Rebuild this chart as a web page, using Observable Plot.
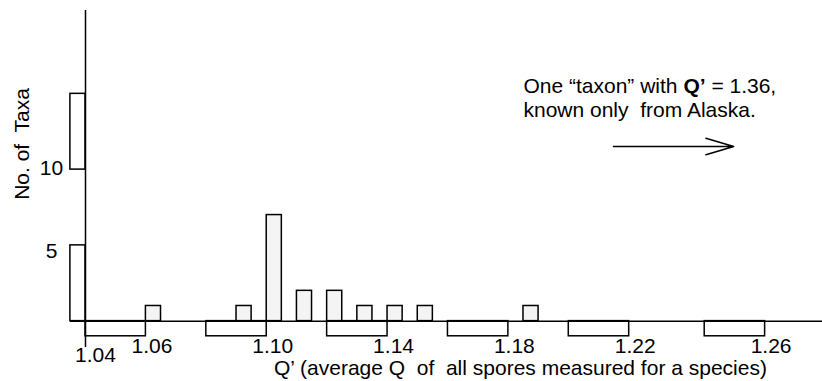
<!DOCTYPE html>
<html>
<head>
<meta charset="utf-8">
<script src="https://cdn.jsdelivr.net/npm/d3@7"></script>
<script src="https://cdn.jsdelivr.net/npm/@observablehq/plot@0.6"></script>
<style>
  html, body { margin: 0; padding: 0; background: #fff; }
  svg text { white-space: pre; }
</style>
</head>
<body>
<div id="chart"></div>
<script>
// Histogram bins (left edge of each Q' bin) and number of taxa
const binStart = [1.06, 1.09, 1.10, 1.11, 1.12, 1.13, 1.14, 1.15, 1.185];
const taxaCount = [1, 1, 7, 2, 2, 1, 1, 1, 1];
const binWidth = 0.005;

// Leftmost column (Q' < 1.04), drawn in two pieces around the y tick labels
const leftBin = 1.035;
const leftFrom = [0, 10];
const leftTo = [5, 15];

// Alternating bands under the axis and their labels
const bandStart = [1.04, 1.08, 1.12, 1.16, 1.20, 1.245];
const bandEnd = [1.06, 1.10, 1.14, 1.18, 1.22, 1.265];
const bandLabel = ["1.06", "1.10", "1.14", "1.18", "1.22", "1.26"];
const firstLabel = "1.04";

const yTicks = [5, 10];

const xTitle = "Q’ (average Q  of  all spores measured for a species)";
const yTitle = "No. of  Taxa";
const note1 = "One “taxon” with Q’ = 1.36,";
const note2 = "known only  from Alaska.";

const bars = binStart.map((q, i) => ({q, n: taxaCount[i]}));
const leftBars = leftFrom.map((a, i) => ({q: leftBin, a, b: leftTo[i]}));
const bands = bandStart.map((s, i) => ({s, e: bandEnd[i], label: bandLabel[i]}));

const font = "Liberation Sans, Arial, Helvetica, sans-serif";
const fs = 21;

const svg = Plot.plot({
  width: 822,
  height: 381,
  marginLeft: 85,
  marginRight: 0,
  marginTop: 10,
  marginBottom: 34,
  style: {fontFamily: font, fontSize: fs + "px", background: "#fff", color: "#000"},
  x: {domain: [1.04, 1.284], axis: null},
  y: {domain: [-1.74, 20.5], axis: null},
  marks: [
    // bands below the baseline
    Plot.rect(bands, {x1: "s", x2: "e", y1: -1, y2: 0, fill: "white", stroke: "black", strokeWidth: 1.5}),
    // baseline
    Plot.ruleY([0], {x1: leftBin, x2: 1.284, stroke: "black", strokeWidth: 1.5}),
    // left column pieces
    Plot.rect(leftBars, {x1: "q", x2: d => d.q + binWidth, y1: "a", y2: "b", fill: "white", stroke: "black", strokeWidth: 1.5}),
    // bars
    Plot.rect(bars, {x1: "q", x2: d => d.q + binWidth, y1: 0, y2: "n", fill: "#f4f4f4", stroke: "black", strokeWidth: 1.5}),
    // y axis line
    Plot.ruleX([1.04], {y1: -1.74, y2: 20.5, stroke: "black", strokeWidth: 1.5}),
    // y tick labels
    Plot.axisY([yTicks[0]], {tickSize: 0, tickPadding: 0, textAnchor: "middle", dx: -34, dy: 6, fontSize: fs, label: null}),
    Plot.axisY([yTicks[1]], {tickSize: 0, tickPadding: 0, textAnchor: "middle", dx: -34, dy: -1.5, fontSize: fs, label: null}),
    // x labels
    Plot.text(bands, {x: "e", y: -1, text: "label", dx: 6, dy: 9.5, fontSize: fs, fill: "black"}),
    Plot.text([firstLabel], {x: 1.04, y: -1, text: d => d, dx: 10, dy: 19, fontSize: fs, fill: "black"}),
    // axis titles
    Plot.text([xTitle], {x: 1.184, frameAnchor: "bottom", text: d => d, dy: 27, fontSize: fs, fill: "black"}),
    Plot.text([yTitle], {y: 11.69, frameAnchor: "left", textAnchor: "middle", text: d => d, rotate: -90, dx: -63, fontSize: fs, fill: "black"}),
    // annotation
    Plot.text([note1], {x: 1.185, y: 15.53, text: d => d, textAnchor: "start", fontSize: fs, fill: "black"}),
    Plot.text([note2], {x: 1.185, y: 13.9, text: d => d, textAnchor: "start", fontSize: fs, fill: "black"}),
    Plot.arrow([{x1: 1.2148, x2: 1.2546, y: 11.52}], {x1: "x1", x2: "x2", y1: "y", y2: "y", headAngle: 33, headLength: 29, stroke: "black", strokeWidth: 1.5, insetStart: 0, insetEnd: 0})
  ]
});

// bold Q’ inside the annotation
svg.querySelectorAll("text").forEach(t => {
  if (t.textContent === note1) {
    t.textContent = "";
    t.append(document.createTextNode("One “taxon” with "));
    const ts = document.createElementNS("http://www.w3.org/2000/svg", "tspan");
    ts.setAttribute("font-weight", "bold");
    ts.textContent = "Q’";
    t.append(ts);
    t.append(document.createTextNode(" = 1.36,"));
  }
});

document.getElementById("chart").append(svg);
</script>
</body>
</html>
